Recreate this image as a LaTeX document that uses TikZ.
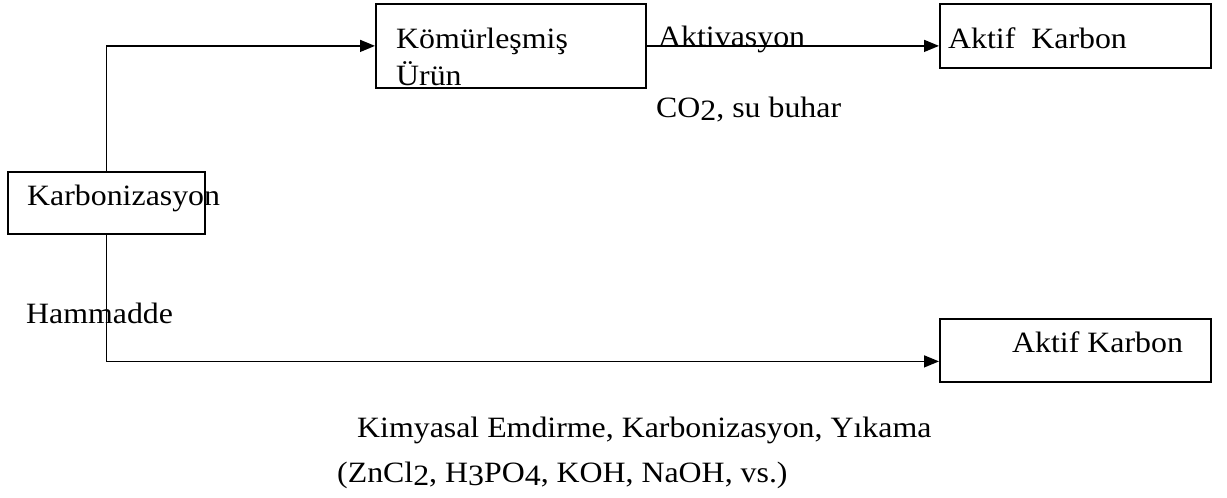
\documentclass[tikz,border=0pt]{standalone}
\usepackage{fontspec}
\setmainfont[FakeStretch=1.08]{Liberation Serif}
\usetikzlibrary{arrows.meta,calc}
\newcommand{\lowd}[1]{\raisebox{-3pt}{#1}}
\begin{document}
\begin{tikzpicture}[x=1pt,y=-1pt,
  box/.style={draw,line width=1.8pt,rectangle,inner sep=0pt,anchor=north west},
  txt/.style={anchor=base west,inner sep=0pt,font=\fontsize{29.5}{34}\selectfont},
  conn/.style={line width=1.5pt,-{Triangle[length=15pt,width=12pt]}}]
\useasboundingbox (0,0) rectangle (1227,498);
\node[box,minimum width=270pt,minimum height=84pt] (kom) at (375,3) {};
\node[box,minimum width=271pt,minimum height=64pt] (akt1) at (939,3) {};
\node[box,minimum width=197pt,minimum height=62pt] (karb) at (7,171) {};
\node[box,minimum width=271pt,minimum height=63pt] (akt2) at (939,318) {};
\node[txt] (t1) at (396,48) {Kömürleşmiş};
\node[txt] (t2) at (396,85) {Ürün};
\node[txt] (t3) at (658,46) {Aktivasyon};
\node[txt] (t4) at (948,48) {Aktif\ \ Karbon};
\node[txt] (t5) at (656,117) {CO\lowd{2}, su buhar};
\node[txt] (t6) at (27,205) {Karbonizasyon};
\node[txt] (t7) at (26,323) {Hammadde};
\node[txt] (t8) at (1012,352) {Aktif Karbon};
\node[txt] (t9) at (357,437) {Kimyasal Emdirme, Karbonizasyon, Yıkama};
\node[txt] (t10) at (337,482) {(ZnCl\lowd{2}, H\lowd{3}PO\lowd{4}, KOH, NaOH, vs.)};
\draw[conn] (karb.north) |- (kom.west);
\draw[conn] (kom.east) -- (akt1.west |- kom.east);
\draw[conn] (karb.south) |- ($(akt2.west)+(0,11)$);
\end{tikzpicture}
\end{document}
